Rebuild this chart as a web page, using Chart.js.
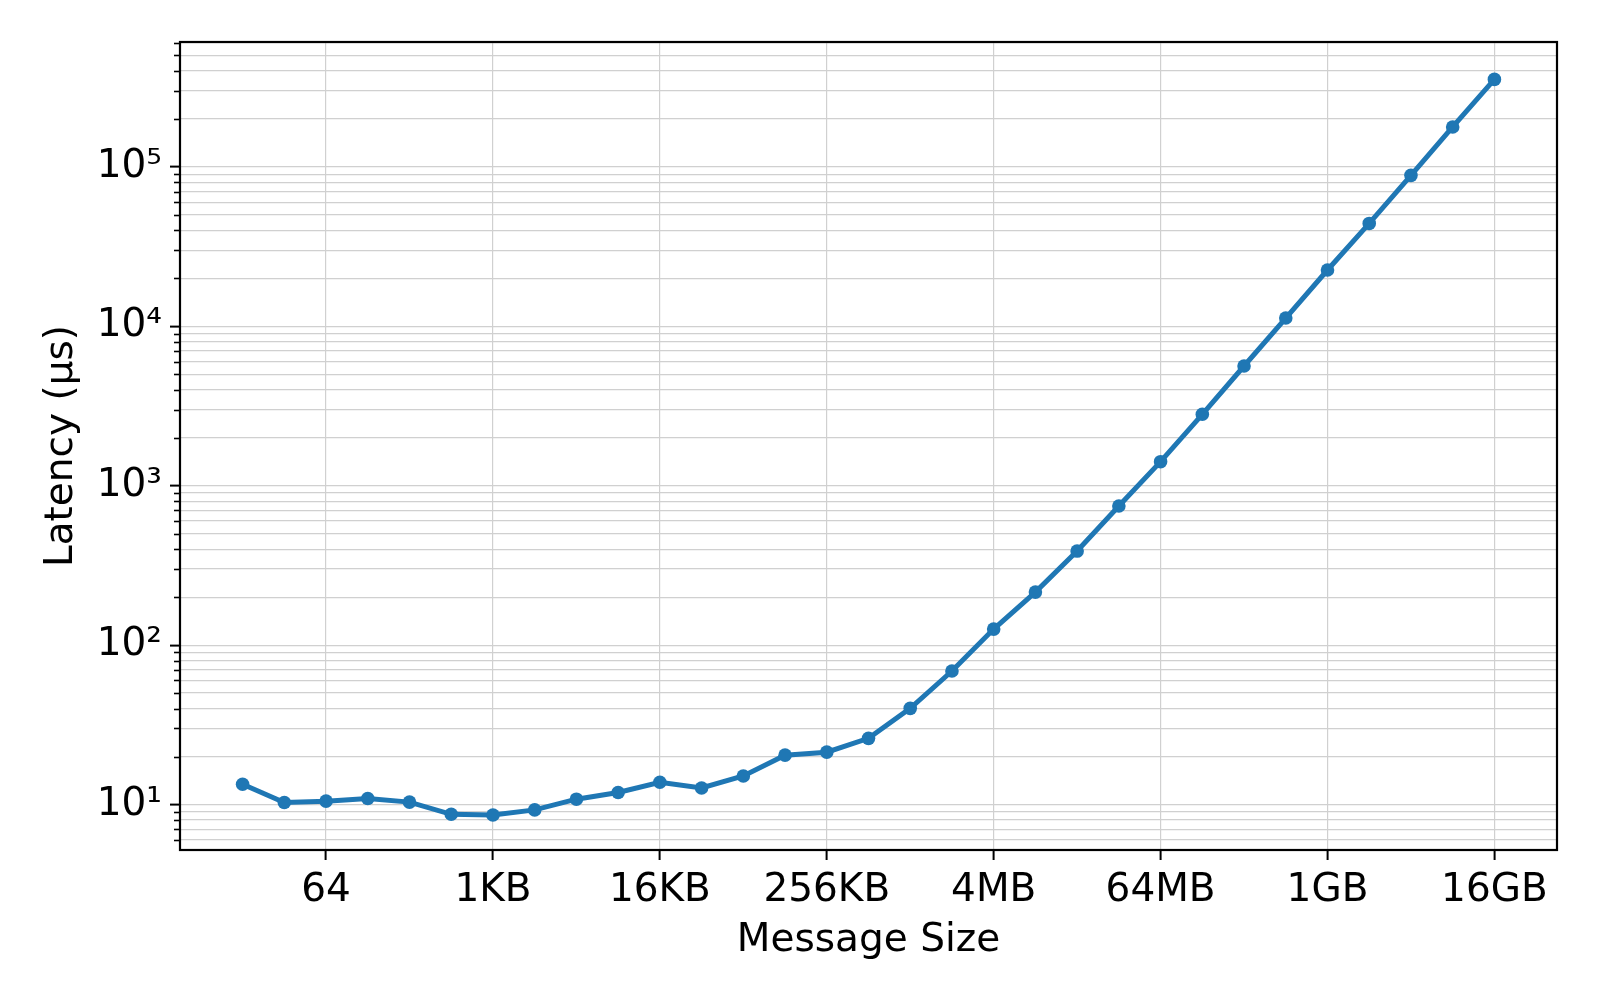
<!DOCTYPE html>
<html>
<head>
<meta charset="utf-8">
<script src="https://cdn.jsdelivr.net/npm/chart.js@4.4.1/dist/chart.umd.min.js"></script>
<style>
  html, body { margin: 0; padding: 0; background: #ffffff; }
  #wrap { width: 1600px; height: 1000px; }
</style>
</head>
<body>
<div id="wrap"><canvas id="c" width="1600" height="1000"></canvas></div>
<script>
// ---- data ----
const messageSizes = [16, 32, 64, 128, 256, 512, 1024, 2048, 4096, 8192, 16384, 32768, 65536,
  131072, 262144, 524288, 1048576, 2097152, 4194304, 8388608, 16777216, 33554432, 67108864,
  134217728, 268435456, 536870912, 1073741824, 2147483648, 4294967296, 8589934592, 17179869184];
const latencyUs = [13.4, 10.3, 10.5, 10.9, 10.35, 8.68, 8.6, 9.25, 10.8, 11.9, 13.8, 12.7, 15.1,
  20.4, 21.3, 26.0, 40.1, 68.8, 126, 215, 389, 746, 1415,
  2806, 5636, 11270, 22550, 44200, 88500, 178000, 354000];
const xTickValues = [64, 1024, 16384, 262144, 4194304, 67108864, 1073741824, 17179869184];
const xTickLabels = ['64', '1KB', '16KB', '256KB', '4MB', '64MB', '1GB', '16GB'];
const yMajorTicks = [10, 100, 1000, 10000, 100000];
const yTickLabels = ['10\u00B9', '10\u00B2', '10\u00B3', '10\u2074', '10\u2075'];
const xLabel = 'Message Size';
const yLabel = 'Latency (\u00B5s)';

const xMin = Math.pow(2, 2.5), xMax = Math.pow(2, 35.5);
const yMin = Math.pow(10, 0.7146), yMax = Math.pow(10, 5.7836);

const FONT = "'DejaVu Sans', sans-serif";
const FONT_SIZE = 39;
const LINE_COLOR = '#1f77b4';
const GRID_COLOR = '#d0d0d0';

function isMajorY(v) {
  const l = Math.log10(v);
  return Math.abs(l - Math.round(l)) < 1e-9;
}
function buildYTicks() {
  const out = [];
  for (let e = -1; e <= 6; e++) {
    for (let m = 1; m <= 9; m++) {
      const v = m * Math.pow(10, e);
      if (v >= yMin * 0.9999 && v <= yMax * 1.0001) out.push({ value: v, major: m === 1 });
    }
  }
  return out;
}

const framePlugin = {
  id: 'framePlugin',
  afterDraw(chart) {
    const { ctx, chartArea: a, scales } = chart;
    ctx.save();
    ctx.strokeStyle = '#000';
    ctx.lineWidth = 1.6;
    const ys = scales.y;
    ys.ticks.forEach(t => {
      if (!isMajorY(t.value)) {
        const py = Math.round(ys.getPixelForValue(t.value)) + 0.5;
        ctx.beginPath();
        ctx.moveTo(a.left - 6, py);
        ctx.lineTo(a.left, py);
        ctx.stroke();
      }
    });
    ctx.lineWidth = 2.2;
    ctx.strokeRect(a.left, a.top, a.right - a.left, a.bottom - a.top);
    ctx.restore();
  }
};

new Chart(document.getElementById('c'), {
  type: 'line',
  data: {
    datasets: [{
      data: messageSizes.map((s, i) => ({ x: s, y: latencyUs[i] })),
      borderColor: LINE_COLOR,
      backgroundColor: LINE_COLOR,
      borderWidth: 5,
      pointRadius: 6.8,
      pointBorderWidth: 0,
      pointBackgroundColor: LINE_COLOR,
      pointHoverRadius: 6.8,
      tension: 0,
      fill: false
    }]
  },
  options: {
    responsive: false,
    animation: false,
    devicePixelRatio: 1,
    layout: { padding: { top: 42, right: 43, left: 0, bottom: 0 } },
    plugins: { legend: { display: false }, tooltip: { enabled: false } },
    scales: {
      x: {
        type: 'logarithmic',
        position: 'bottom',
        min: xMin,
        max: xMax,
        bounds: 'data',
        afterBuildTicks(scale) {
          scale.ticks = xTickValues.map(v => ({ value: v }));
        },
        afterFit(scale) { scale.height = 150; },
        border: { display: false },
        grid: {
          color: GRID_COLOR,
          lineWidth: 1.2,
          drawTicks: true,
          tickLength: 10,
          tickColor: '#000',
          tickWidth: 2
        },
        ticks: {
          autoSkip: false,
          maxRotation: 0,
          minRotation: 0,
          padding: 7,
          color: '#000',
          font: { family: FONT, size: FONT_SIZE },
          callback(value) {
            const i = xTickValues.findIndex(v => Math.abs(v - value) / v < 1e-9);
            return i >= 0 ? xTickLabels[i] : '';
          }
        },
        title: {
          display: true,
          text: xLabel,
          color: '#000',
          font: { family: FONT, size: FONT_SIZE },
          padding: { top: 0, bottom: 36 }
        }
      },
      y: {
        type: 'logarithmic',
        position: 'left',
        min: yMin,
        max: yMax,
        bounds: 'data',
        afterBuildTicks(scale) {
          scale.ticks = buildYTicks().map(t => ({ value: t.value, major: t.major }));
        },
        afterFit(scale) { scale.width = 180; },
        border: { display: false },
        grid: {
          color: GRID_COLOR,
          lineWidth: 1.2,
          drawTicks: true,
          tickLength: 10,
          tickColor: (ctx) => (ctx.tick && isMajorY(ctx.tick.value)) ? '#000' : 'rgba(0,0,0,0)',
          tickWidth: 2
        },
        ticks: {
          autoSkip: false,
          padding: 8,
          color: '#000',
          font: { family: FONT, size: FONT_SIZE },
          callback(value) {
            const i = yMajorTicks.findIndex(v => Math.abs(v - value) / v < 1e-9);
            return i >= 0 ? yTickLabels[i] : '';
          }
        },
        title: {
          display: true,
          text: yLabel,
          color: '#000',
          font: { family: FONT, size: FONT_SIZE },
          padding: { top: 38, bottom: 0 }
        }
      }
    }
  },
  plugins: [framePlugin]
});
</script>
</body>
</html>
